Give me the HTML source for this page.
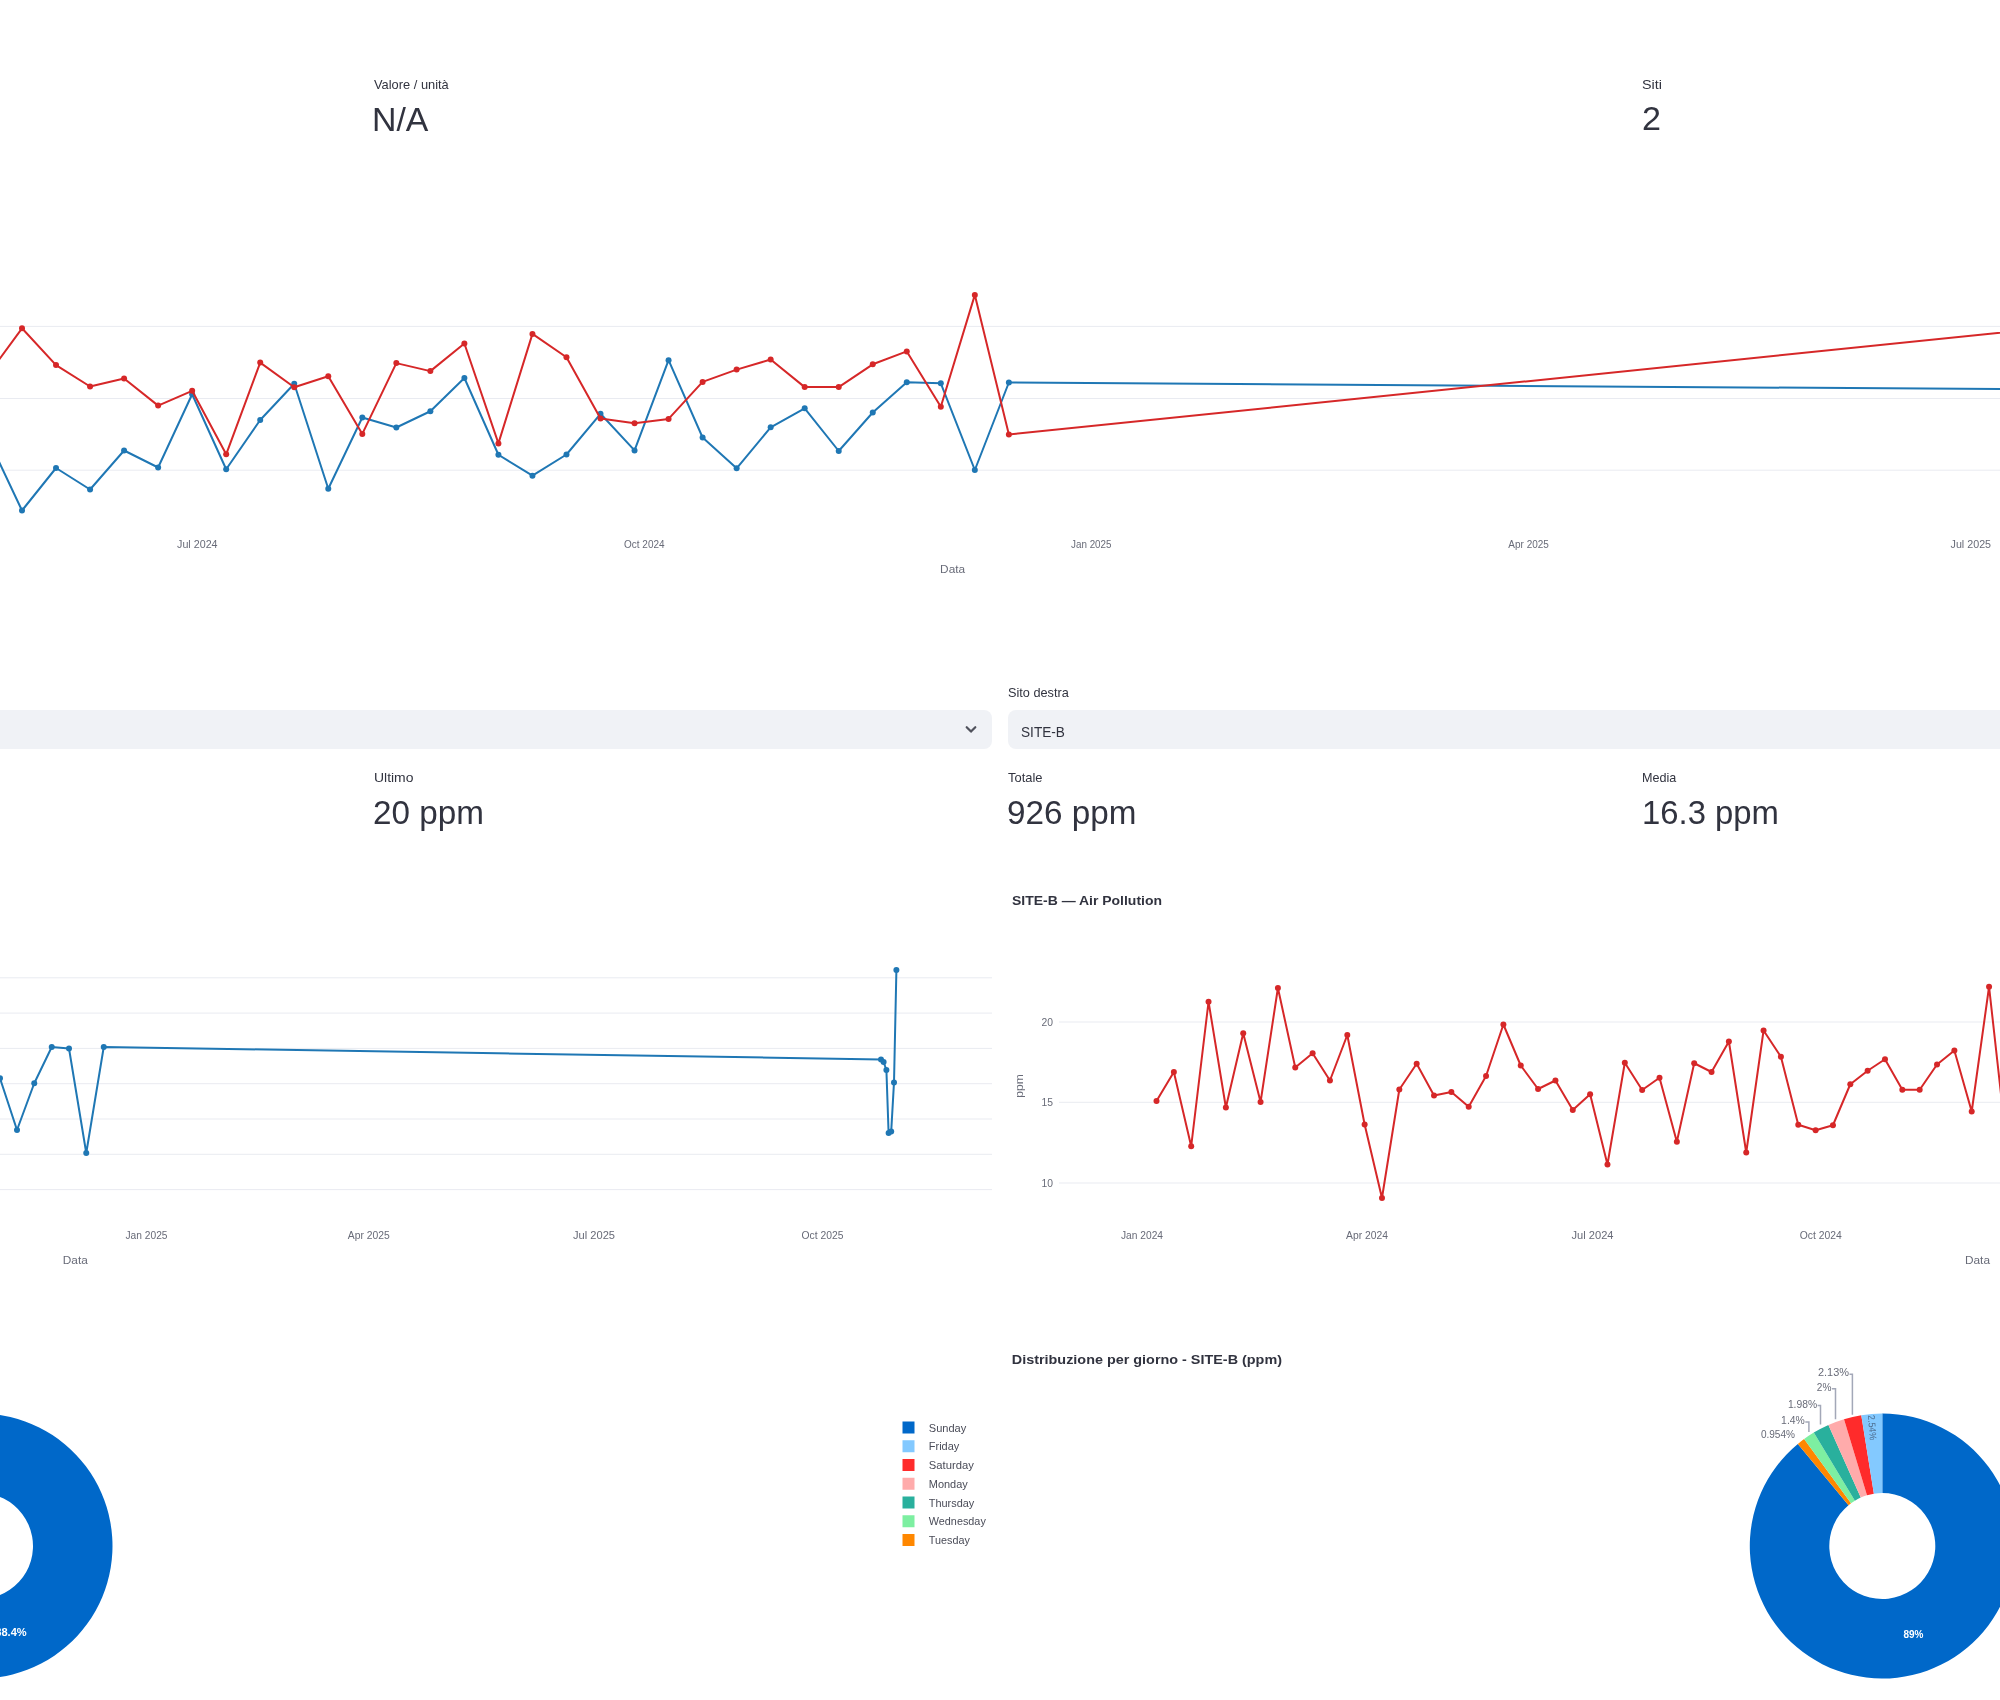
<!DOCTYPE html>
<html lang="it"><head><meta charset="utf-8"><title>Dashboard</title>
<style>
html,body{margin:0;padding:0;background:#fff;}
body{width:2000px;height:1700px;position:relative;overflow:hidden;font-family:"Liberation Sans", sans-serif;filter:blur(0.7px);}
.t{position:absolute;white-space:nowrap;line-height:1;transform-origin:0 0;display:block;}
.sel{position:absolute;top:710px;height:39px;background:#f0f2f6;border-radius:8px;}
.chev{position:absolute;}
svg.charts{position:absolute;left:0;top:0;}
svg text{font-family:"Liberation Sans", sans-serif;}
</style></head><body>
<svg class="charts" width="2000" height="1700" viewBox="0 0 2000 1700">
<line x1="0" y1="326.40" x2="2000" y2="326.40" stroke="#e9ebf1" stroke-width="1"/>
<line x1="0" y1="398.50" x2="2000" y2="398.50" stroke="#e9ebf1" stroke-width="1"/>
<line x1="0" y1="470.20" x2="2000" y2="470.20" stroke="#e9ebf1" stroke-width="1"/>
<polyline points="-12.03,438.25 22.00,510.50 56.03,468.00 90.06,489.50 124.09,450.50 158.12,467.50 192.15,394.25 226.18,469.25 260.21,420.00 294.24,383.75 328.27,488.75 362.30,417.50 396.33,427.50 430.36,411.25 464.39,378.00 498.42,454.75 532.45,475.70 566.48,454.50 600.51,413.80 634.54,450.40 668.57,360.20 702.60,437.50 736.63,468.30 770.66,427.30 804.69,408.30 838.72,451.00 872.75,412.50 906.78,382.20 940.81,383.30 974.84,470.00 1008.87,382.50 2100.00,389.77" fill="none" stroke="#1f77b4" stroke-width="2" stroke-linejoin="round" stroke-linecap="round"/>
<circle cx="-12.03" cy="438.25" r="3" fill="#1f77b4"/><circle cx="22.00" cy="510.50" r="3" fill="#1f77b4"/><circle cx="56.03" cy="468.00" r="3" fill="#1f77b4"/><circle cx="90.06" cy="489.50" r="3" fill="#1f77b4"/><circle cx="124.09" cy="450.50" r="3" fill="#1f77b4"/><circle cx="158.12" cy="467.50" r="3" fill="#1f77b4"/><circle cx="192.15" cy="394.25" r="3" fill="#1f77b4"/><circle cx="226.18" cy="469.25" r="3" fill="#1f77b4"/><circle cx="260.21" cy="420.00" r="3" fill="#1f77b4"/><circle cx="294.24" cy="383.75" r="3" fill="#1f77b4"/><circle cx="328.27" cy="488.75" r="3" fill="#1f77b4"/><circle cx="362.30" cy="417.50" r="3" fill="#1f77b4"/><circle cx="396.33" cy="427.50" r="3" fill="#1f77b4"/><circle cx="430.36" cy="411.25" r="3" fill="#1f77b4"/><circle cx="464.39" cy="378.00" r="3" fill="#1f77b4"/><circle cx="498.42" cy="454.75" r="3" fill="#1f77b4"/><circle cx="532.45" cy="475.70" r="3" fill="#1f77b4"/><circle cx="566.48" cy="454.50" r="3" fill="#1f77b4"/><circle cx="600.51" cy="413.80" r="3" fill="#1f77b4"/><circle cx="634.54" cy="450.40" r="3" fill="#1f77b4"/><circle cx="668.57" cy="360.20" r="3" fill="#1f77b4"/><circle cx="702.60" cy="437.50" r="3" fill="#1f77b4"/><circle cx="736.63" cy="468.30" r="3" fill="#1f77b4"/><circle cx="770.66" cy="427.30" r="3" fill="#1f77b4"/><circle cx="804.69" cy="408.30" r="3" fill="#1f77b4"/><circle cx="838.72" cy="451.00" r="3" fill="#1f77b4"/><circle cx="872.75" cy="412.50" r="3" fill="#1f77b4"/><circle cx="906.78" cy="382.20" r="3" fill="#1f77b4"/><circle cx="940.81" cy="383.30" r="3" fill="#1f77b4"/><circle cx="974.84" cy="470.00" r="3" fill="#1f77b4"/><circle cx="1008.87" cy="382.50" r="3" fill="#1f77b4"/>
<polyline points="-12.03,374.80 22.00,328.30 56.03,365.10 90.06,386.50 124.09,378.50 158.12,405.60 192.15,390.80 226.18,454.30 260.21,362.60 294.24,387.20 328.27,376.20 362.30,433.90 396.33,363.10 430.36,371.10 464.39,343.50 498.42,443.40 532.45,333.90 566.48,357.30 600.51,418.60 634.54,423.20 668.57,418.90 702.60,381.90 736.63,369.60 770.66,359.50 804.69,387.10 838.72,387.10 872.75,364.30 906.78,351.40 940.81,406.70 974.84,294.90 1008.87,434.50 2100.00,322.44" fill="none" stroke="#d62728" stroke-width="2" stroke-linejoin="round" stroke-linecap="round"/>
<circle cx="-12.03" cy="374.80" r="3" fill="#d62728"/><circle cx="22.00" cy="328.30" r="3" fill="#d62728"/><circle cx="56.03" cy="365.10" r="3" fill="#d62728"/><circle cx="90.06" cy="386.50" r="3" fill="#d62728"/><circle cx="124.09" cy="378.50" r="3" fill="#d62728"/><circle cx="158.12" cy="405.60" r="3" fill="#d62728"/><circle cx="192.15" cy="390.80" r="3" fill="#d62728"/><circle cx="226.18" cy="454.30" r="3" fill="#d62728"/><circle cx="260.21" cy="362.60" r="3" fill="#d62728"/><circle cx="294.24" cy="387.20" r="3" fill="#d62728"/><circle cx="328.27" cy="376.20" r="3" fill="#d62728"/><circle cx="362.30" cy="433.90" r="3" fill="#d62728"/><circle cx="396.33" cy="363.10" r="3" fill="#d62728"/><circle cx="430.36" cy="371.10" r="3" fill="#d62728"/><circle cx="464.39" cy="343.50" r="3" fill="#d62728"/><circle cx="498.42" cy="443.40" r="3" fill="#d62728"/><circle cx="532.45" cy="333.90" r="3" fill="#d62728"/><circle cx="566.48" cy="357.30" r="3" fill="#d62728"/><circle cx="600.51" cy="418.60" r="3" fill="#d62728"/><circle cx="634.54" cy="423.20" r="3" fill="#d62728"/><circle cx="668.57" cy="418.90" r="3" fill="#d62728"/><circle cx="702.60" cy="381.90" r="3" fill="#d62728"/><circle cx="736.63" cy="369.60" r="3" fill="#d62728"/><circle cx="770.66" cy="359.50" r="3" fill="#d62728"/><circle cx="804.69" cy="387.10" r="3" fill="#d62728"/><circle cx="838.72" cy="387.10" r="3" fill="#d62728"/><circle cx="872.75" cy="364.30" r="3" fill="#d62728"/><circle cx="906.78" cy="351.40" r="3" fill="#d62728"/><circle cx="940.81" cy="406.70" r="3" fill="#d62728"/><circle cx="974.84" cy="294.90" r="3" fill="#d62728"/><circle cx="1008.87" cy="434.50" r="3" fill="#d62728"/>
<text x="197.30" y="548.30" font-size="11.00" fill="#686b78" text-anchor="middle" textLength="40.50" lengthAdjust="spacingAndGlyphs">Jul 2024</text>
<text x="644.30" y="548.30" font-size="11.00" fill="#686b78" text-anchor="middle" textLength="40.50" lengthAdjust="spacingAndGlyphs">Oct 2024</text>
<text x="1091.30" y="548.30" font-size="11.00" fill="#686b78" text-anchor="middle" textLength="40.50" lengthAdjust="spacingAndGlyphs">Jan 2025</text>
<text x="1528.60" y="548.30" font-size="11.00" fill="#686b78" text-anchor="middle" textLength="40.50" lengthAdjust="spacingAndGlyphs">Apr 2025</text>
<text x="1970.80" y="548.30" font-size="11.00" fill="#686b78" text-anchor="middle" textLength="40.50" lengthAdjust="spacingAndGlyphs">Jul 2025</text>
<text x="952.60" y="572.50" font-size="11.00" fill="#686b78" text-anchor="middle" textLength="25.00" lengthAdjust="spacingAndGlyphs">Data</text>
<line x1="0" y1="977.80" x2="992" y2="977.80" stroke="#e9ebf1" stroke-width="1"/>
<line x1="0" y1="1013.10" x2="992" y2="1013.10" stroke="#e9ebf1" stroke-width="1"/>
<line x1="0" y1="1048.40" x2="992" y2="1048.40" stroke="#e9ebf1" stroke-width="1"/>
<line x1="0" y1="1083.70" x2="992" y2="1083.70" stroke="#e9ebf1" stroke-width="1"/>
<line x1="0" y1="1119.00" x2="992" y2="1119.00" stroke="#e9ebf1" stroke-width="1"/>
<line x1="0" y1="1154.30" x2="992" y2="1154.30" stroke="#e9ebf1" stroke-width="1"/>
<line x1="0" y1="1189.60" x2="992" y2="1189.60" stroke="#e9ebf1" stroke-width="1"/>
<polyline points="-17.30,1101.40 0.00,1078.25 17.00,1130.00 34.25,1083.25 51.75,1047.00 69.00,1048.50 86.25,1153.00 103.75,1047.00 881.00,1059.40 883.60,1062.00 886.40,1070.00 888.60,1133.00 891.20,1131.60 894.00,1082.40 896.40,970.00" fill="none" stroke="#1f77b4" stroke-width="2" stroke-linejoin="round" stroke-linecap="round"/>
<circle cx="-17.30" cy="1101.40" r="3" fill="#1f77b4"/><circle cx="0.00" cy="1078.25" r="3" fill="#1f77b4"/><circle cx="17.00" cy="1130.00" r="3" fill="#1f77b4"/><circle cx="34.25" cy="1083.25" r="3" fill="#1f77b4"/><circle cx="51.75" cy="1047.00" r="3" fill="#1f77b4"/><circle cx="69.00" cy="1048.50" r="3" fill="#1f77b4"/><circle cx="86.25" cy="1153.00" r="3" fill="#1f77b4"/><circle cx="103.75" cy="1047.00" r="3" fill="#1f77b4"/><circle cx="881.00" cy="1059.40" r="3" fill="#1f77b4"/><circle cx="883.60" cy="1062.00" r="3" fill="#1f77b4"/><circle cx="886.40" cy="1070.00" r="3" fill="#1f77b4"/><circle cx="888.60" cy="1133.00" r="3" fill="#1f77b4"/><circle cx="891.20" cy="1131.60" r="3" fill="#1f77b4"/><circle cx="894.00" cy="1082.40" r="3" fill="#1f77b4"/><circle cx="896.40" cy="970.00" r="3" fill="#1f77b4"/>
<text x="146.50" y="1239.30" font-size="11.00" fill="#686b78" text-anchor="middle" textLength="42.00" lengthAdjust="spacingAndGlyphs">Jan 2025</text>
<text x="368.80" y="1239.30" font-size="11.00" fill="#686b78" text-anchor="middle" textLength="42.00" lengthAdjust="spacingAndGlyphs">Apr 2025</text>
<text x="594.00" y="1239.30" font-size="11.00" fill="#686b78" text-anchor="middle" textLength="42.00" lengthAdjust="spacingAndGlyphs">Jul 2025</text>
<text x="822.50" y="1239.30" font-size="11.00" fill="#686b78" text-anchor="middle" textLength="42.00" lengthAdjust="spacingAndGlyphs">Oct 2025</text>
<text x="75.30" y="1263.80" font-size="11.00" fill="#686b78" text-anchor="middle" textLength="25.00" lengthAdjust="spacingAndGlyphs">Data</text>
<line x1="1059" y1="1022.00" x2="2000" y2="1022.00" stroke="#e9ebf1" stroke-width="1"/>
<line x1="1059" y1="1102.30" x2="2000" y2="1102.30" stroke="#e9ebf1" stroke-width="1"/>
<line x1="1059" y1="1183.00" x2="2000" y2="1183.00" stroke="#e9ebf1" stroke-width="1"/>
<polyline points="1156.50,1101.00 1173.85,1072.00 1191.19,1146.25 1208.54,1001.75 1225.88,1107.50 1243.22,1033.25 1260.57,1102.00 1277.91,988.00 1295.26,1067.50 1312.61,1053.25 1329.95,1080.50 1347.30,1035.00 1364.64,1124.50 1381.98,1198.00 1399.33,1089.50 1416.67,1063.75 1434.02,1095.50 1451.37,1092.00 1468.71,1106.75 1486.05,1076.00 1503.40,1024.50 1520.74,1065.50 1538.09,1089.00 1555.43,1080.50 1572.78,1110.00 1590.12,1094.25 1607.47,1164.50 1624.82,1062.75 1642.16,1090.00 1659.51,1077.75 1676.85,1141.75 1694.19,1063.25 1711.54,1072.00 1728.88,1041.50 1746.23,1152.50 1763.57,1030.50 1780.92,1056.75 1798.26,1124.75 1815.61,1130.25 1832.95,1125.25 1850.30,1084.25 1867.64,1070.75 1884.99,1059.25 1902.34,1089.75 1919.68,1089.75 1937.03,1064.50 1954.37,1050.50 1971.71,1111.50 1989.06,986.75 2006.40,1142.90" fill="none" stroke="#d62728" stroke-width="2" stroke-linejoin="round" stroke-linecap="round"/>
<circle cx="1156.50" cy="1101.00" r="3" fill="#d62728"/><circle cx="1173.85" cy="1072.00" r="3" fill="#d62728"/><circle cx="1191.19" cy="1146.25" r="3" fill="#d62728"/><circle cx="1208.54" cy="1001.75" r="3" fill="#d62728"/><circle cx="1225.88" cy="1107.50" r="3" fill="#d62728"/><circle cx="1243.22" cy="1033.25" r="3" fill="#d62728"/><circle cx="1260.57" cy="1102.00" r="3" fill="#d62728"/><circle cx="1277.91" cy="988.00" r="3" fill="#d62728"/><circle cx="1295.26" cy="1067.50" r="3" fill="#d62728"/><circle cx="1312.61" cy="1053.25" r="3" fill="#d62728"/><circle cx="1329.95" cy="1080.50" r="3" fill="#d62728"/><circle cx="1347.30" cy="1035.00" r="3" fill="#d62728"/><circle cx="1364.64" cy="1124.50" r="3" fill="#d62728"/><circle cx="1381.98" cy="1198.00" r="3" fill="#d62728"/><circle cx="1399.33" cy="1089.50" r="3" fill="#d62728"/><circle cx="1416.67" cy="1063.75" r="3" fill="#d62728"/><circle cx="1434.02" cy="1095.50" r="3" fill="#d62728"/><circle cx="1451.37" cy="1092.00" r="3" fill="#d62728"/><circle cx="1468.71" cy="1106.75" r="3" fill="#d62728"/><circle cx="1486.05" cy="1076.00" r="3" fill="#d62728"/><circle cx="1503.40" cy="1024.50" r="3" fill="#d62728"/><circle cx="1520.74" cy="1065.50" r="3" fill="#d62728"/><circle cx="1538.09" cy="1089.00" r="3" fill="#d62728"/><circle cx="1555.43" cy="1080.50" r="3" fill="#d62728"/><circle cx="1572.78" cy="1110.00" r="3" fill="#d62728"/><circle cx="1590.12" cy="1094.25" r="3" fill="#d62728"/><circle cx="1607.47" cy="1164.50" r="3" fill="#d62728"/><circle cx="1624.82" cy="1062.75" r="3" fill="#d62728"/><circle cx="1642.16" cy="1090.00" r="3" fill="#d62728"/><circle cx="1659.51" cy="1077.75" r="3" fill="#d62728"/><circle cx="1676.85" cy="1141.75" r="3" fill="#d62728"/><circle cx="1694.19" cy="1063.25" r="3" fill="#d62728"/><circle cx="1711.54" cy="1072.00" r="3" fill="#d62728"/><circle cx="1728.88" cy="1041.50" r="3" fill="#d62728"/><circle cx="1746.23" cy="1152.50" r="3" fill="#d62728"/><circle cx="1763.57" cy="1030.50" r="3" fill="#d62728"/><circle cx="1780.92" cy="1056.75" r="3" fill="#d62728"/><circle cx="1798.26" cy="1124.75" r="3" fill="#d62728"/><circle cx="1815.61" cy="1130.25" r="3" fill="#d62728"/><circle cx="1832.95" cy="1125.25" r="3" fill="#d62728"/><circle cx="1850.30" cy="1084.25" r="3" fill="#d62728"/><circle cx="1867.64" cy="1070.75" r="3" fill="#d62728"/><circle cx="1884.99" cy="1059.25" r="3" fill="#d62728"/><circle cx="1902.34" cy="1089.75" r="3" fill="#d62728"/><circle cx="1919.68" cy="1089.75" r="3" fill="#d62728"/><circle cx="1937.03" cy="1064.50" r="3" fill="#d62728"/><circle cx="1954.37" cy="1050.50" r="3" fill="#d62728"/><circle cx="1971.71" cy="1111.50" r="3" fill="#d62728"/><circle cx="1989.06" cy="986.75" r="3" fill="#d62728"/><circle cx="2006.40" cy="1142.90" r="3" fill="#d62728"/>
<text x="1142.00" y="1239.30" font-size="11.00" fill="#686b78" text-anchor="middle" textLength="42.00" lengthAdjust="spacingAndGlyphs">Jan 2024</text>
<text x="1367.00" y="1239.30" font-size="11.00" fill="#686b78" text-anchor="middle" textLength="42.00" lengthAdjust="spacingAndGlyphs">Apr 2024</text>
<text x="1592.50" y="1239.30" font-size="11.00" fill="#686b78" text-anchor="middle" textLength="42.00" lengthAdjust="spacingAndGlyphs">Jul 2024</text>
<text x="1820.80" y="1239.30" font-size="11.00" fill="#686b78" text-anchor="middle" textLength="42.00" lengthAdjust="spacingAndGlyphs">Oct 2024</text>
<text x="1977.50" y="1263.80" font-size="11.00" fill="#686b78" text-anchor="middle" textLength="25.00" lengthAdjust="spacingAndGlyphs">Data</text>
<text x="1053.00" y="1025.50" font-size="11.00" fill="#686b78" text-anchor="end" textLength="11.50" lengthAdjust="spacingAndGlyphs">20</text>
<text x="1053.00" y="1105.80" font-size="11.00" fill="#686b78" text-anchor="end" textLength="11.50" lengthAdjust="spacingAndGlyphs">15</text>
<text x="1053.00" y="1186.50" font-size="11.00" fill="#686b78" text-anchor="end" textLength="11.50" lengthAdjust="spacingAndGlyphs">10</text>
<text transform="translate(1022.8,1086) rotate(-90)" font-size="11.0" fill="#686b78" text-anchor="middle" textLength="23.5" lengthAdjust="spacingAndGlyphs">ppm</text>
<text x="1012.00" y="904.60" font-size="13.20" fill="#31333F" font-weight="700" text-anchor="start" textLength="150.00" lengthAdjust="spacingAndGlyphs">SITE-B — Air Pollution</text>
<text x="1011.80" y="1363.90" font-size="13.20" fill="#31333F" font-weight="700" text-anchor="start" textLength="270.20" lengthAdjust="spacingAndGlyphs">Distribuzione per giorno - SITE-B (ppm)</text>
<path d="M1882.30,1413.50 A132.5,132.5 0 1 1 1797.84,1443.91 L1848.52,1505.16 A53,53 0 1 0 1882.30,1493.00 Z" fill="#0068c9"/>
<path d="M1797.84,1443.91 A132.5,132.5 0 0 1 1804.11,1439.03 L1851.02,1503.21 A53,53 0 0 0 1848.52,1505.16 Z" fill="#ff8700"/>
<path d="M1804.11,1439.03 A132.5,132.5 0 0 1 1813.81,1432.58 L1854.90,1500.63 A53,53 0 0 0 1851.02,1503.21 Z" fill="#7defa1"/>
<path d="M1813.81,1432.58 A132.5,132.5 0 0 1 1828.41,1424.95 L1860.74,1497.58 A53,53 0 0 0 1854.90,1500.63 Z" fill="#29b09d"/>
<path d="M1828.41,1424.95 A132.5,132.5 0 0 1 1844.01,1419.15 L1866.98,1495.26 A53,53 0 0 0 1860.74,1497.58 Z" fill="#ffabab"/>
<path d="M1844.01,1419.15 A132.5,132.5 0 0 1 1861.28,1415.18 L1873.89,1493.67 A53,53 0 0 0 1866.98,1495.26 Z" fill="#ff2b2b"/>
<path d="M1861.28,1415.18 A132.5,132.5 0 0 1 1882.30,1413.50 L1882.30,1493.00 A53,53 0 0 0 1873.89,1493.67 Z" fill="#83c9ff"/>
<path d="M-20.00,1413.50 A132.5,132.5 0 1 1 -108.25,1447.16 L-55.30,1506.47 A53,53 0 1 0 -20.00,1493.00 Z" fill="#0068c9"/>
<path d="M-108.25,1447.16 A132.5,132.5 0 0 1 -101.87,1441.82 L-52.75,1504.33 A53,53 0 0 0 -55.30,1506.47 Z" fill="#ff8700"/>
<path d="M-101.87,1441.82 A132.5,132.5 0 0 1 -91.70,1434.57 L-48.68,1501.43 A53,53 0 0 0 -52.75,1504.33 Z" fill="#7defa1"/>
<path d="M-91.70,1434.57 A132.5,132.5 0 0 1 -77.17,1426.47 L-42.87,1498.19 A53,53 0 0 0 -48.68,1501.43 Z" fill="#29b09d"/>
<path d="M-77.17,1426.47 A132.5,132.5 0 0 1 -60.15,1419.73 L-36.06,1495.49 A53,53 0 0 0 -42.87,1498.19 Z" fill="#ffabab"/>
<path d="M-60.15,1419.73 A132.5,132.5 0 0 1 -40.73,1415.13 L-28.29,1493.65 A53,53 0 0 0 -36.06,1495.49 Z" fill="#ff2b2b"/>
<path d="M-40.73,1415.13 A132.5,132.5 0 0 1 -20.00,1413.50 L-20.00,1493.00 A53,53 0 0 0 -28.29,1493.65 Z" fill="#83c9ff"/>
<text x="1913.40" y="1638.00" font-size="11.00" fill="#ffffff" font-weight="700" text-anchor="middle" textLength="20.00" lengthAdjust="spacingAndGlyphs">89%</text>
<text x="11.00" y="1635.50" font-size="10.80" fill="#ffffff" font-weight="700" text-anchor="middle" textLength="31.50" lengthAdjust="spacingAndGlyphs">88.4%</text>
<text transform="translate(1872.3,1427.5) rotate(85.4)" font-size="9.8" fill="#4f6f92" text-anchor="middle" textLength="25" lengthAdjust="spacingAndGlyphs" dy="3.4">2.54%</text>
<text x="1817.90" y="1376.10" font-size="10.50" fill="#686b78" text-anchor="start" textLength="31.10" lengthAdjust="spacingAndGlyphs">2.13%</text>
<path d="M1849.5,1374.2 H1852.4 V1414.8" fill="none" stroke="#a3a8b8" stroke-width="1.5"/>
<text x="1816.80" y="1390.60" font-size="10.50" fill="#686b78" text-anchor="start" textLength="14.60" lengthAdjust="spacingAndGlyphs">2%</text>
<path d="M1831.9,1388.7 H1835.5 V1419.3" fill="none" stroke="#a3a8b8" stroke-width="1.5"/>
<text x="1787.90" y="1407.50" font-size="10.50" fill="#686b78" text-anchor="start" textLength="29.20" lengthAdjust="spacingAndGlyphs">1.98%</text>
<path d="M1817.6,1405.6 H1820.5 V1424.5" fill="none" stroke="#a3a8b8" stroke-width="1.5"/>
<text x="1781.10" y="1423.90" font-size="10.50" fill="#686b78" text-anchor="start" textLength="23.70" lengthAdjust="spacingAndGlyphs">1.4%</text>
<path d="M1805.3,1422.0 H1808.9 V1432.0" fill="none" stroke="#a3a8b8" stroke-width="1.5"/>
<text x="1760.90" y="1437.90" font-size="10.50" fill="#686b78" text-anchor="start" textLength="34.10" lengthAdjust="spacingAndGlyphs">0.954%</text>
<rect x="902.5" y="1421.50" width="12" height="12" fill="#0068c9"/>
<text x="928.80" y="1431.50" font-size="11.00" fill="#4a4c58" text-anchor="start" textLength="37.50" lengthAdjust="spacingAndGlyphs">Sunday</text>
<rect x="902.5" y="1440.25" width="12" height="12" fill="#83c9ff"/>
<text x="928.80" y="1450.25" font-size="11.00" fill="#4a4c58" text-anchor="start" textLength="30.50" lengthAdjust="spacingAndGlyphs">Friday</text>
<rect x="902.5" y="1459.00" width="12" height="12" fill="#ff2b2b"/>
<text x="928.80" y="1469.00" font-size="11.00" fill="#4a4c58" text-anchor="start" textLength="45.00" lengthAdjust="spacingAndGlyphs">Saturday</text>
<rect x="902.5" y="1477.75" width="12" height="12" fill="#ffabab"/>
<text x="928.80" y="1487.75" font-size="11.00" fill="#4a4c58" text-anchor="start" textLength="39.00" lengthAdjust="spacingAndGlyphs">Monday</text>
<rect x="902.5" y="1496.50" width="12" height="12" fill="#29b09d"/>
<text x="928.80" y="1506.50" font-size="11.00" fill="#4a4c58" text-anchor="start" textLength="45.50" lengthAdjust="spacingAndGlyphs">Thursday</text>
<rect x="902.5" y="1515.25" width="12" height="12" fill="#7defa1"/>
<text x="928.80" y="1525.25" font-size="11.00" fill="#4a4c58" text-anchor="start" textLength="57.00" lengthAdjust="spacingAndGlyphs">Wednesday</text>
<rect x="902.5" y="1534.00" width="12" height="12" fill="#ff8700"/>
<text x="928.80" y="1544.00" font-size="11.00" fill="#4a4c58" text-anchor="start" textLength="41.00" lengthAdjust="spacingAndGlyphs">Tuesday</text>
</svg>
<span class="t" style="left:373.60px;top:78.68px;font-size:12.90px;color:#31333F;transform:scaleX(0.9966);">Valore / unità</span>
<span class="t" style="left:371.60px;top:102.50px;font-size:33.20px;color:#31333F;transform:scaleX(1.0191);">N/A</span>
<span class="t" style="left:1642.00px;top:78.68px;font-size:12.90px;color:#31333F;transform:scaleX(1.1160);">Siti</span>
<span class="t" style="left:1641.50px;top:102.40px;font-size:33.20px;color:#31333F;transform:scaleX(1.0290);">2</span>
<span class="t" style="left:373.80px;top:771.58px;font-size:12.90px;color:#31333F;transform:scaleX(1.0806);">Ultimo</span>
<span class="t" style="left:372.70px;top:795.50px;font-size:33.20px;color:#31333F;transform:scaleX(1.0023);">20 ppm</span>
<span class="t" style="left:1008.30px;top:771.58px;font-size:12.90px;color:#31333F;transform:scaleX(1.0022);">Totale</span>
<span class="t" style="left:1006.50px;top:795.50px;font-size:33.20px;color:#31333F;transform:scaleX(1.0023);">926 ppm</span>
<span class="t" style="left:1642.00px;top:771.58px;font-size:12.90px;color:#31333F;transform:scaleX(0.9762);">Media</span>
<span class="t" style="left:1641.50px;top:795.50px;font-size:33.20px;color:#31333F;transform:scaleX(0.9897);">16.3 ppm</span>
<span class="t" style="left:1008.30px;top:686.58px;font-size:12.90px;color:#31333F;transform:scaleX(0.9859);">Sito destra</span>
<div class="sel" style="left:-894px;width:1886px"></div>
<div class="sel" style="left:1007.6px;width:1886px"></div>
<span class="t" style="left:1021.40px;top:724.98px;font-size:14.20px;color:#31333F;transform:scaleX(0.9615);">SITE-B</span>
<svg class="chev" style="left:964px;top:722px" width="14" height="14" viewBox="0 0 14 14"><path d="M2.7,5.2 L7,9.6 L11.3,5.2" fill="none" stroke="#50525c" stroke-width="2.2" stroke-linecap="round" stroke-linejoin="round"/></svg>
</body></html>
